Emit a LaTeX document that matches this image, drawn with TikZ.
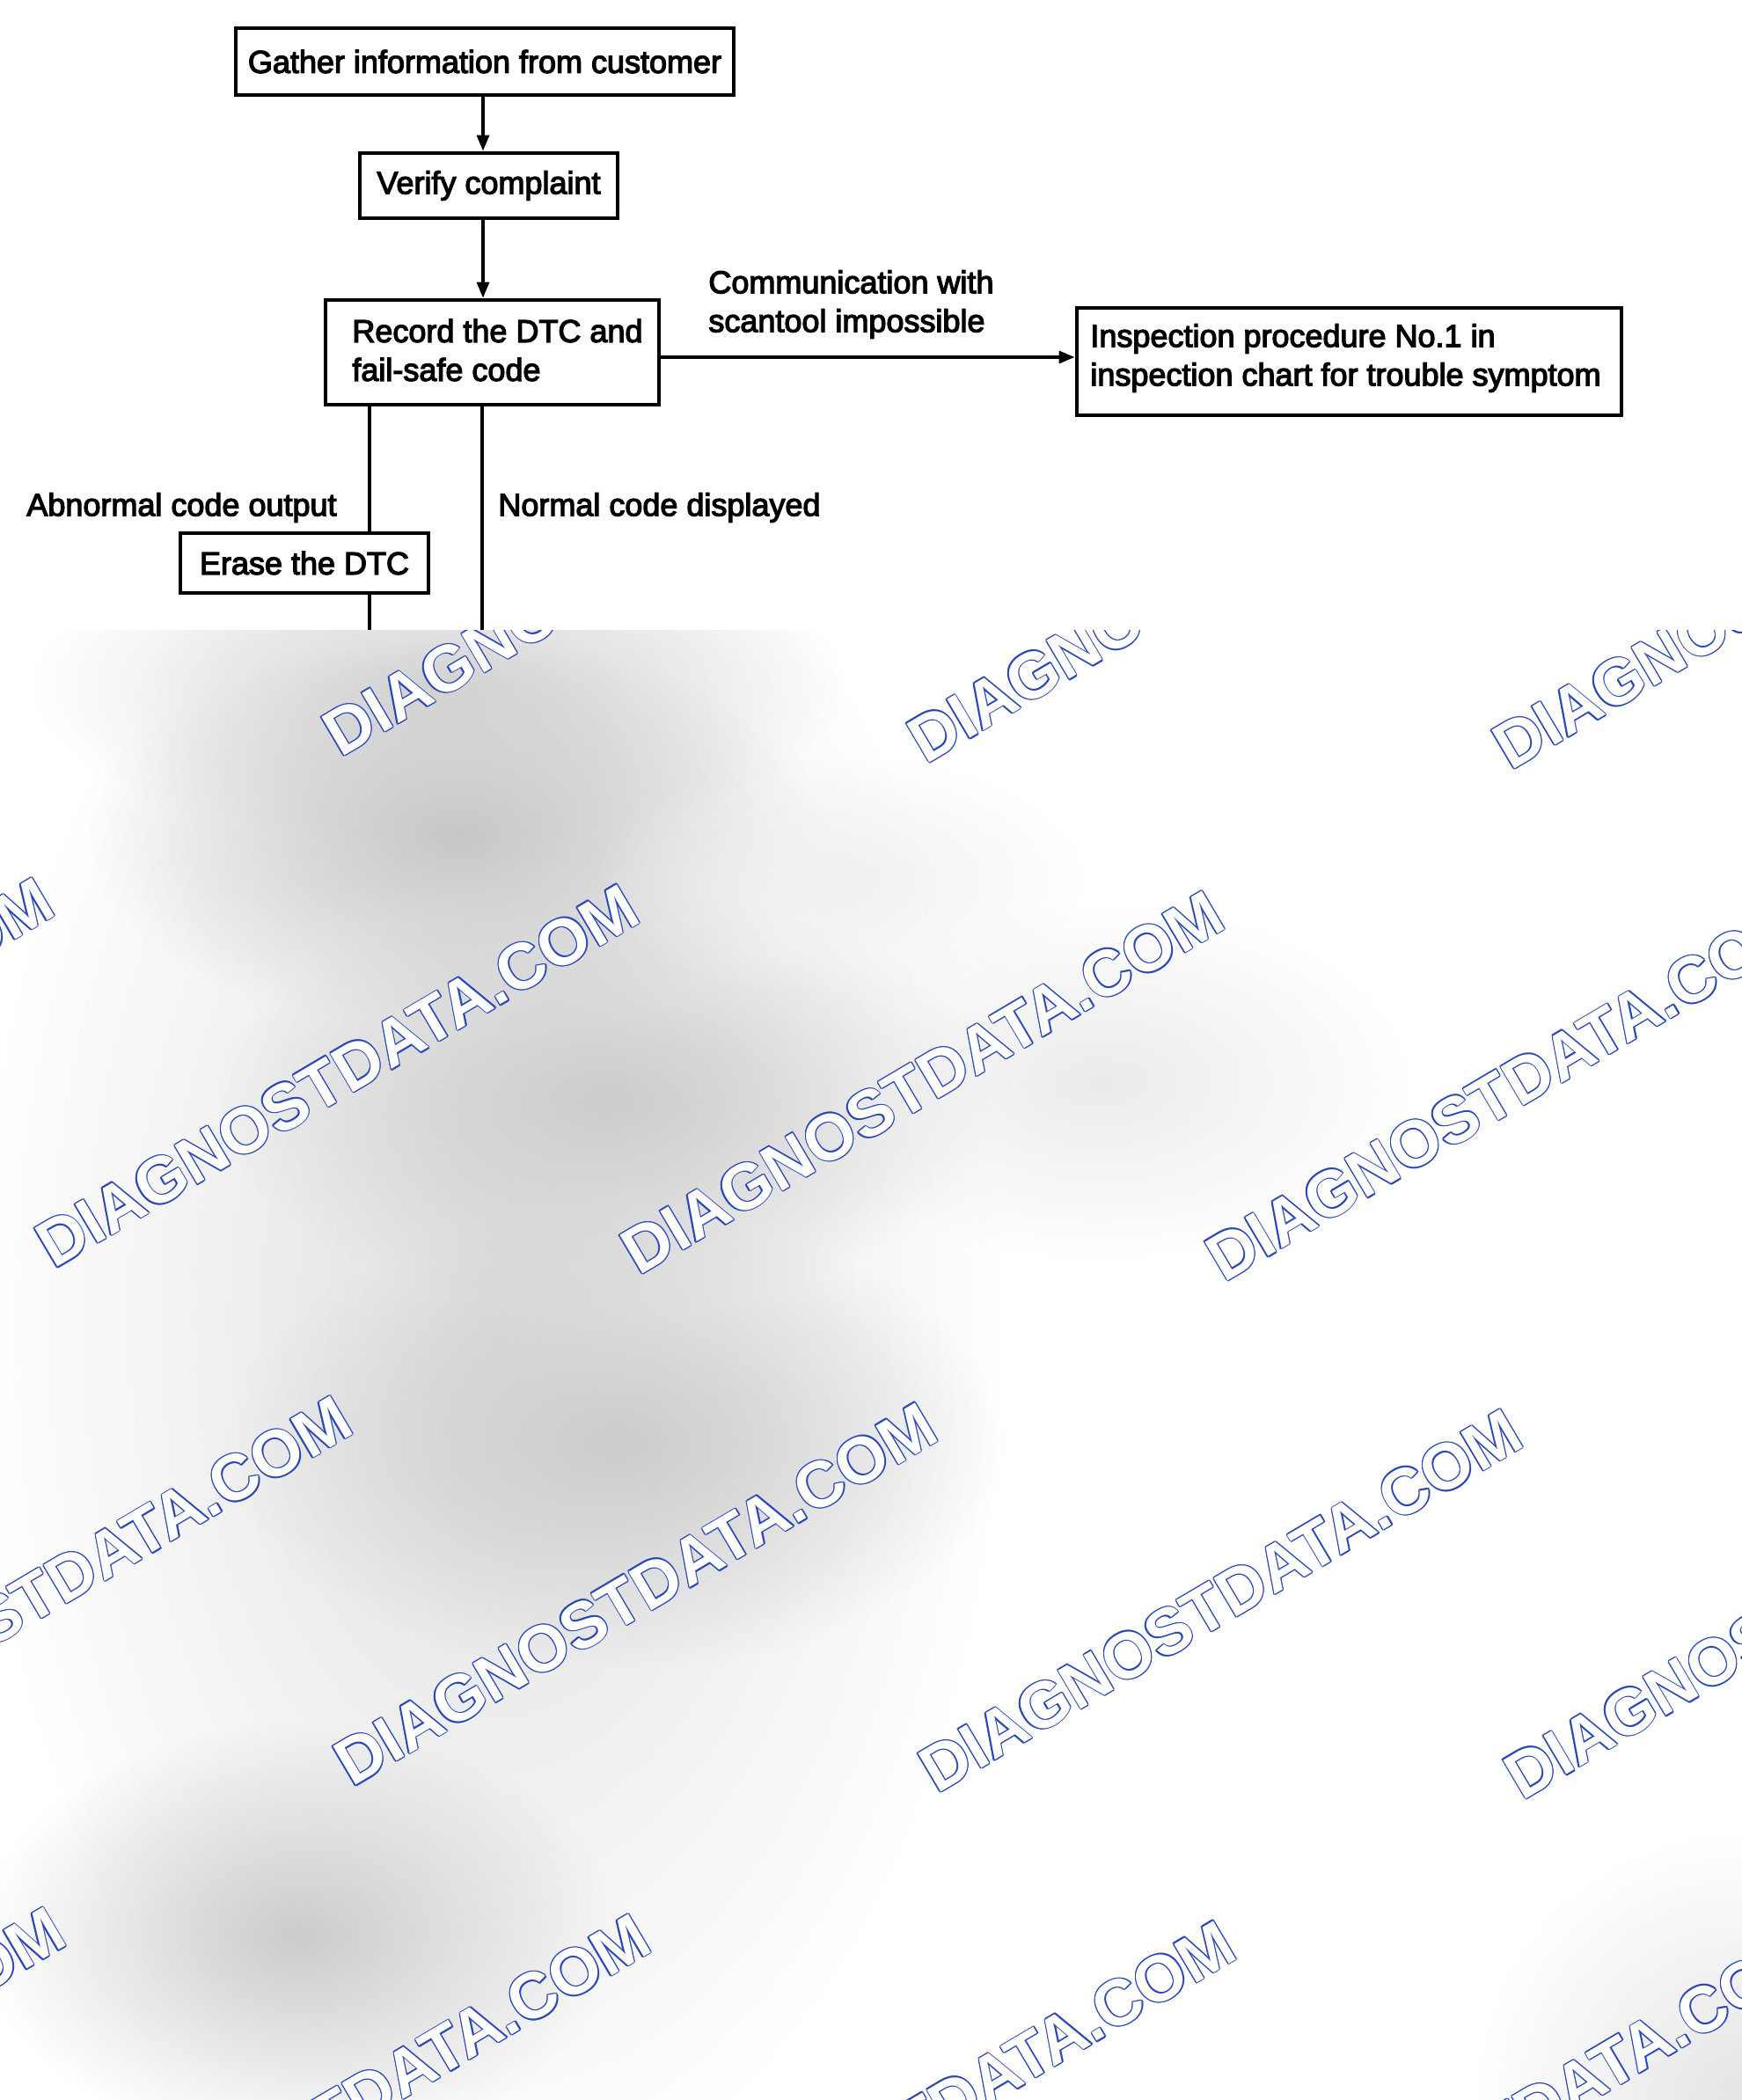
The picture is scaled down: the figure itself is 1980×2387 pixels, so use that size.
\documentclass[tikz,border=0pt]{standalone}
\usepackage{fontspec}
\newfontfamily\diagfont{Liberation Sans}[FakeBold=3.5]
\newfontfamily\wmfont{Liberation Sans Bold}
\usetikzlibrary{arrows.meta,fadings}
\definecolor{wmblue}{RGB}{40,70,185}
\tikzfading[name=softblob, inner color=transparent!0, outer color=transparent!100]
\begin{document}
\begin{tikzpicture}[x=0.5pt,y=-0.5pt,
  box/.style={draw=black, line width=2.4pt, inner sep=0pt, font=\diagfont\fontsize{18}{22}\selectfont},
  conn/.style={line width=1.6pt, draw=black},
  arr/.style={conn, -{Triangle[length=9pt,width=7pt]}},
  lbl/.style={font=\diagfont\fontsize{18}{22}\selectfont, inner sep=0pt, anchor=west, align=left},
  wm/.style={font=\wmfont\fontsize{37}{37}\selectfont, rotate=30.6, anchor=base west, inner sep=0pt},
  blob/.style={path fading=softblob}]
\useasboundingbox (0,0) rectangle (1980,2387);
\fill[white] (0,0) rectangle (1980,2387);

% blurred lower area
\begin{scope}
  \clip (0,716) rectangle (1980,2387);
  \fill[black!12, blob] (560,1500) ellipse [x radius=290pt, y radius=500pt];
  \fill[black!16, blob] (500,780) ellipse [x radius=230pt, y radius=90pt];
  \fill[black!22, blob] (520,950) ellipse [x radius=210pt, y radius=110pt];
  \fill[black!20, blob] (690,1250) ellipse [x radius=220pt, y radius=120pt];
  \fill[black!20, blob] (700,1640) ellipse [x radius=220pt, y radius=130pt];
  \fill[black!20, blob] (340,2200) ellipse [x radius=180pt, y radius=120pt];
  \fill[black!8, blob] (1250,1230) ellipse [x radius=175pt, y radius=100pt];
  \fill[black!6, blob] (950,1000) ellipse [x radius=140pt, y radius=70pt];
  \fill[black!10, blob] (1980,2387) ellipse [x radius=150pt, y radius=150pt];
  % watermark
  \foreach \i in {-3,...,3} {
    \foreach \j in {-1,...,2} {
      \pgfmathsetmacro\px{61+665*\i+339*\j}
      \pgfmathsetmacro\py{1443+7.6*\i+589*\j}
      \foreach \dx/\dy [count=\k] in {0.7/0,-0.7/0,0/0.7,0/-0.7,0.5/0.5,-0.5/0.5,0.5/-0.5,-0.5/-0.5} {
        \node[wm, text=wmblue, xshift=\dx pt, yshift=\dy pt] (wm\i x\j x\k) at (\px,\py) {DIAGNOSTDATA.COM};
      }
      \node[wm, text=white] (wm\i x\j xw) at (\px,\py) {DIAGNOSTDATA.COM};
    }
  }
\end{scope}

% helper coordinates
\coordinate (ax) at (549,0);
\coordinate (hy) at (0,406);
\coordinate (lx) at (420,0);
\coordinate (rx) at (548,0);
\coordinate (cut) at (0,716);

% boxes
\node[box, minimum width=283pt, minimum height=38pt] (gather) at (551,70) {Gather information from customer};
\node[box, minimum width=146.5pt, minimum height=37pt] (verify) at (555.5,211) {Verify complaint};
\node[box, minimum width=189.5pt, minimum height=59.5pt] (record) at (559.5,400.5) {};
\node[lbl] (recordtxt) at (400,398) {Record the DTC and\\fail-safe code};
\node[box, minimum width=309.5pt, minimum height=61pt] (inspect) at (1533.5,411) {};
\node[lbl] (inspecttxt) at (1239,407) {Inspection procedure No.1 in\\inspection chart for trouble symptom};
\node[box, minimum width=141pt, minimum height=34pt] (erase) at (346,640) {Erase the DTC};

% labels
\node[lbl] (commlbl) at (805,346) {Communication with\\scantool impossible};
\node[lbl] (abnlbl) at (30,577) {Abnormal code output};
\node[lbl] (normlbl) at (566,577) {Normal code displayed};

% connectors
\draw[arr] (gather.south -| ax) -- (verify.north -| ax);
\draw[arr] (verify.south -| ax) -- (record.north -| ax);
\draw[arr] (record.east |- hy) -- (inspect.west |- hy);
\draw[conn] (record.south -| lx) -- (erase.north -| lx);
\draw[conn] (erase.south -| lx) -- (lx |- cut);
\draw[conn] (record.south -| rx) -- (rx |- cut);
\end{tikzpicture}
\end{document}
